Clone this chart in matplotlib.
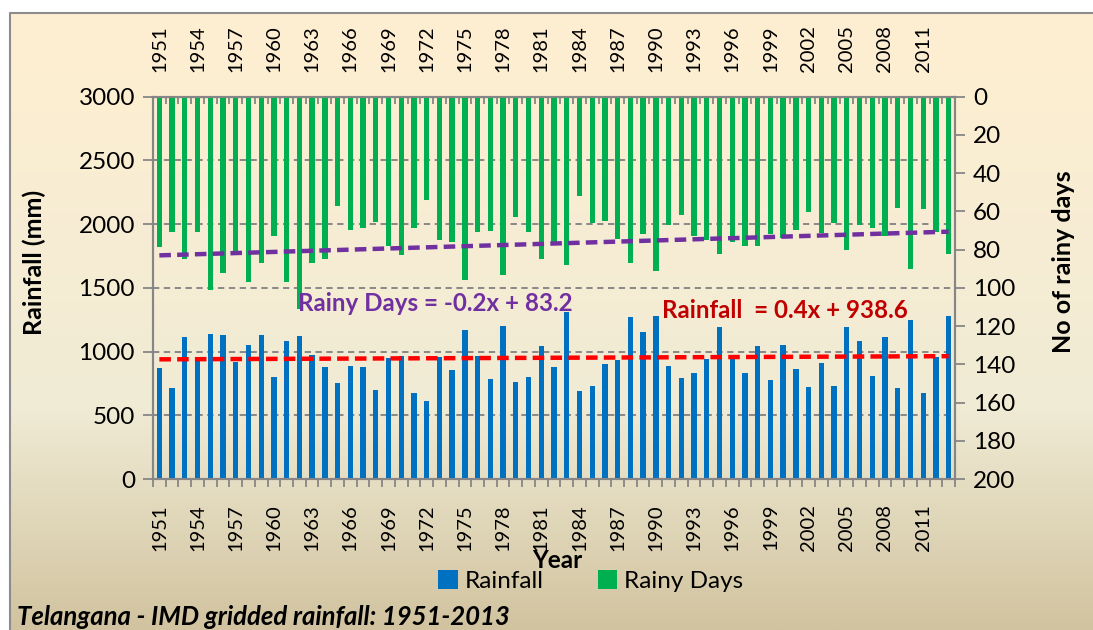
import numpy as np
import matplotlib
matplotlib.use("Agg")
import matplotlib.pyplot as plt
from matplotlib.patches import Patch
from matplotlib.colors import LinearSegmentedColormap

# ---------------- data ----------------
years = list(range(1951, 2014))
rainfall = [872, 712, 1113, 940, 1139, 1131, 916, 1055, 1131, 798,
            1079, 1123, 976, 880, 754, 885, 880, 702, 950, 969,
            675, 613, 961, 853, 1170, 963, 788, 1204, 762, 804,
            1047, 882, 1309, 694, 733, 901, 935, 1270, 1157, 1280,
            885, 796, 832, 940, 1189, 963, 830, 1045, 775, 1055,
            867, 720, 914, 728, 1191, 1086, 806, 1113, 715, 1249,
            675, 956, 1280]
rainy_days = [78.8, 71.0, 84.9, 71.0, 101.2, 92.1, 82.8, 97.1, 87.0, 73.1,
              97.1, 111.1, 87.0, 85.1, 57.0, 69.9, 68.9, 65.7, 78.3, 82.8,
              68.9, 53.9, 75.2, 76.2, 95.9, 71.0, 70.1, 93.1, 63.1, 71.0,
              85.1, 76.2, 88.1, 52.1, 65.9, 64.9, 74.5, 87.2, 71.9, 91.2,
              67.0, 61.7, 72.7, 74.8, 82.1, 76.0, 78.0, 78.0, 71.9, 73.9,
              69.9, 60.2, 71.2, 65.9, 80.0, 67.0, 68.9, 72.9, 58.1, 90.2,
              58.9, 71.0, 82.1]
label_years = list(range(1951, 2014, 3))
rain_ticks = [0, 500, 1000, 1500, 2000, 2500, 3000]
days_ticks = list(range(0, 201, 20))
rain_slope, rain_icpt = 0.4, 938.6
days_slope, days_icpt = -0.2, 83.2

# ---------------- styling ----------------
W, H = 1093, 630
plt.rcParams['font.family'] = ['Lato', 'DejaVu Sans']
BLUE = '#0070C0'
GREEN = '#00B050'
GRAY = '#868686'

fig = plt.figure(figsize=(W / 100, H / 100), dpi=100)
fig.patch.set_facecolor('white')

# background panel with parchment gradient
bg = fig.add_axes([0, 0, 1, 1], zorder=-10)
bg.set_xlim(0, W)
bg.set_ylim(H, 0)
bg.axis('off')
cmap = LinearSegmentedColormap.from_list(
    'parch', [(0.0, (255/255, 239/255, 209/255)),
              (0.64, (240/255, 235/255, 213/255)),
              (1.0, (209/255, 195/255, 159/255))])
grad = np.linspace(0, 1, 256).reshape(-1, 1)
bg.imshow(grad, cmap=cmap, aspect='auto', extent=(10, W, H, 13), zorder=0)
bg.plot([10, 10, W], [H, 13, 13], color='#8c8c8c', lw=1.5, zorder=1)

# main axes
L, R, T, B = 153, 955, 96.7, 479
ax = fig.add_axes([L / W, 1 - B / H, (R - L) / W, (B - T) / H])
ax.patch.set_alpha(0)
x = np.array(years)
ax.bar(x, rainfall, width=0.42, color=BLUE, zorder=2)
ax.set_ylim(0, 3000)
ax.set_xlim(years[0] - 0.5, years[-1] + 0.5)
ax.set_yticks(rain_ticks)
ax.set_yticklabels([str(v) for v in rain_ticks], fontsize=17.5)
ax.yaxis.grid(True, color='#808080', linestyle=(0, (3.5, 2.5)), linewidth=1.3)
ax.set_axisbelow(True)
k = np.arange(1, len(years) + 1)
ax.plot(x, rain_slope * k + rain_icpt, color='#FF0000', lw=3.2,
        linestyle=(0, (2.6, 1.4)), zorder=4)

for s in ax.spines.values():
    s.set_color(GRAY)
    s.set_linewidth(1.5)

ax.set_xticks(label_years)
ax.set_xticklabels([str(v) for v in label_years], rotation=90, fontsize=14.5)
ax.set_xticks(np.arange(years[0] - 0.5, years[-1] + 1.0, 1.0), minor=True)
ax.tick_params(axis='x', which='major', length=0, pad=18)
ax.tick_params(axis='x', which='minor', length=6, width=1.3, color=GRAY,
               direction='out', bottom=True, top=False)
ax.tick_params(axis='y', length=7, width=1.3, color=GRAY, pad=6)
ax.set_ylabel('Rainfall (mm)', fontsize=18, fontweight='bold')
label_y = (B - 262) / (B - T)
ax.yaxis.set_label_coords((46 - L) / (R - L), label_y)

# top labels
top = ax.secondary_xaxis('top')
top.set_xticks(label_years)
top.set_xticklabels([str(v) for v in label_years], rotation=90, fontsize=14.5)
top.set_xticks(np.arange(years[0] - 0.5, years[-1] + 1.0, 1.0), minor=True)
top.tick_params(axis='x', which='major', length=0, pad=18)
top.tick_params(axis='x', which='minor', length=5, width=1.3, color=GRAY,
                direction='in')
top.spines['top'].set_color(GRAY)

# secondary y axis for rainy days
ax2 = ax.twinx()
ax2.bar(x, rainy_days, width=0.42, color=GREEN, zorder=2)
ax2.set_ylim(200, 0)
ax2.set_yticks(days_ticks)
ax2.set_yticklabels([str(v) for v in days_ticks], fontsize=17.5)
ax2.tick_params(axis='y', length=7, width=1.3, color=GRAY, pad=6)
ax2.plot(x, days_slope * k + days_icpt, color='#7030A0', lw=3.2,
         linestyle=(0, (2.6, 1.4)), zorder=4)
for s in ax2.spines.values():
    s.set_color(GRAY)
    s.set_linewidth(1.5)
ax2.set_ylabel('No of rainy days', fontsize=18, fontweight='bold')
ax2.yaxis.set_label_coords((1052 - L) / (R - L), label_y)

# trend equations
fig.text(298 / W, 1 - 303 / H, 'Rainy Days = -0.2x + 83.2', color='#7030A0',
         fontsize=17.4, fontweight='bold', ha='left', va='center')
fig.text(662 / W, 1 - 310 / H, 'Rainfall  = 0.4x + 938.6', color='#C00000',
         fontsize=17.4, fontweight='bold', ha='left', va='center')

# x-axis title
fig.text(557 / W, 1 - 561 / H, 'Year', fontsize=17.5, fontweight='bold',
         ha='center', va='center')

# legend
handles = [Patch(facecolor=BLUE), Patch(facecolor=GREEN)]
fig.legend(handles, ['Rainfall', 'Rainy Days'], loc='center',
           bbox_to_anchor=(591 / W, 1 - 581 / H), ncol=2, frameon=False,
           handlelength=0.8, handleheight=0.8,
           handletextpad=0.3, columnspacing=2.2,
           prop={'family': ['Lato'], 'size': 17.5})

# footer caption
fig.text(17 / W, 1 - 617 / H, 'Telangana - IMD gridded rainfall: 1951-2013',
         fontsize=18.5, fontweight='bold', fontstyle='italic', ha='left',
         va='center')

fig.savefig('out.png', dpi=100)
